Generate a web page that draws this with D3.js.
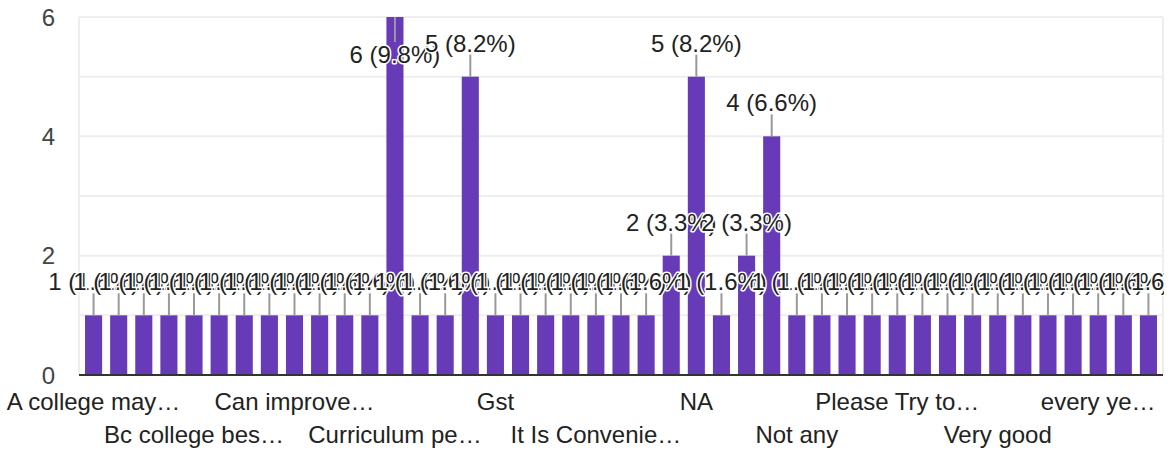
<!DOCTYPE html>
<html>
<head>
<meta charset="utf-8">
<script src="https://cdn.jsdelivr.net/npm/d3@7"></script>
<style>
  html, body { margin: 0; padding: 0; background: #fff; }
  svg { display: block; font-family: Arial, "Liberation Sans", sans-serif; }
</style>
</head>
<body>
<svg id="chart" width="1171" height="450"></svg>
<script>
const categories = [
  "A college may improve more", "All good", "Average", "Awesome",
  "Bc college best in city", "Best", "Better facilities needed", "Can be better",
  "Can improve more activities", "Canteen food", "Classrooms should be cleaner", "College is good",
  "Curriculum performance is good", "Excellent", "Fine", "Good",
  "Gst", "Happy", "Improve infrastructure", "Improve sports",
  "It Is Convenient For Students", "It is good", "Library", "More events",
  "NA", "Nice", "No", "None",
  "Not any", "Nothing", "Ok", "Perfect",
  "Please Try to improve labs", "Satisfied", "Teachers are supportive", "Thank you",
  "Very good", "Very nice", "Well managed", "Yes",
  "every year fees increase", "good", "nice"
];
const counts = [
  1, 1, 1, 1, 1, 1, 1, 1, 1, 1, 1, 1,
  6, 1, 1, 5,
  1, 1, 1, 1, 1, 1, 1,
  2, 5, 1, 2, 4,
  1, 1, 1, 1, 1, 1, 1, 1, 1, 1, 1, 1, 1, 1, 1
];
const tickLabels = [
  "A college may…", "Bc college bes…", "Can improve…", "Curriculum pe…",
  "Gst", "It Is Convenie…", "NA", "Not any", "Please Try to…", "Very good", "every ye…"
];
const yTicks = [0, 2, 4, 6];
const yGrid = [1, 2, 3, 4, 5, 6];

(function () {
const total = d3.sum(counts);
const data = categories.map((c, i) => ({ cat: c, v: counts[i] }));

const svg = d3.select("#chart");
const pLeft = 79, pRight = 1163, pTop = 17, pBase = 375;
const FS = 24;

svg.append("defs").append("clipPath").attr("id", "labclip")
  .append("rect").attr("x", 0).attr("y", 0).attr("width", 1164).attr("height", 450);

const x = d3.scaleBand().domain(categories).range([pLeft, pRight])
  .paddingInner(0.32).paddingOuter(0.24);
const y = d3.scaleLinear().domain([0, 6]).range([pBase, pTop]);

// gridlines
svg.append("g").selectAll("line").data(yGrid).join("line")
  .attr("x1", pLeft).attr("x2", pRight)
  .attr("y1", d => y(d)).attr("y2", d => y(d))
  .attr("stroke", "#eeeeee").attr("stroke-width", 2);
// side borders
svg.append("g").selectAll("line").data([pLeft, pRight]).join("line")
  .attr("x1", d => d).attr("x2", d => d)
  .attr("y1", pTop).attr("y2", pBase)
  .attr("stroke", "#eeeeee").attr("stroke-width", 2);

// bars
svg.append("g").selectAll("rect").data(data).join("rect")
  .attr("x", d => x(d.cat)).attr("width", x.bandwidth())
  .attr("y", d => y(d.v)).attr("height", d => pBase - y(d.v))
  .attr("fill", "#673ab7");

// baseline
svg.append("line").attr("x1", pLeft).attr("x2", pRight)
  .attr("y1", pBase).attr("y2", pBase)
  .attr("stroke", "#333").attr("stroke-width", 2);

// y tick labels
svg.append("g").selectAll("text").data(yTicks).join("text")
  .attr("x", 55).attr("y", d => y(d))
  .attr("text-anchor", "end").attr("dominant-baseline", "central")
  .attr("font-size", FS).attr("fill", "#444")
  .text(d => d);

// x tick labels, every 4th category, alternating rows
svg.append("g").selectAll("text").data(tickLabels).join("text")
  .attr("x", (d, i) => x(categories[i * 4]) + x.bandwidth() / 2)
  .attr("y", (d, i) => i % 2 === 0 ? 410 : 443)
  .attr("text-anchor", "middle")
  .attr("font-size", FS).attr("fill", "#222")
  .text(d => d);

// data labels
const fmt = d3.format(".1f");
const lab = svg.append("g").attr("clip-path", "url(#labclip)");
data.forEach(d => {
  const cx = x(d.cat) + x.bandwidth() / 2;
  const bt = y(d.v);
  const inside = bt - 25 - 18 < 0;
  const lineEnd = inside ? bt + 25 : bt - 22;
  lab.append("line").attr("x1", cx).attr("x2", cx)
    .attr("y1", bt).attr("y2", lineEnd)
    .attr("stroke", "#999").attr("stroke-width", 2);
  lab.append("text")
    .attr("x", cx).attr("y", inside ? bt + 46 : bt - 25)
    .attr("text-anchor", "middle")
    .attr("font-size", FS).attr("fill", "#222")
    .attr("stroke", "#fff").attr("stroke-width", 3)
    .attr("paint-order", "stroke").attr("stroke-linejoin", "round")
    .text(`${d.v} (${fmt(d.v / total * 100)}%)`);
});
})();
</script>
</body>
</html>
